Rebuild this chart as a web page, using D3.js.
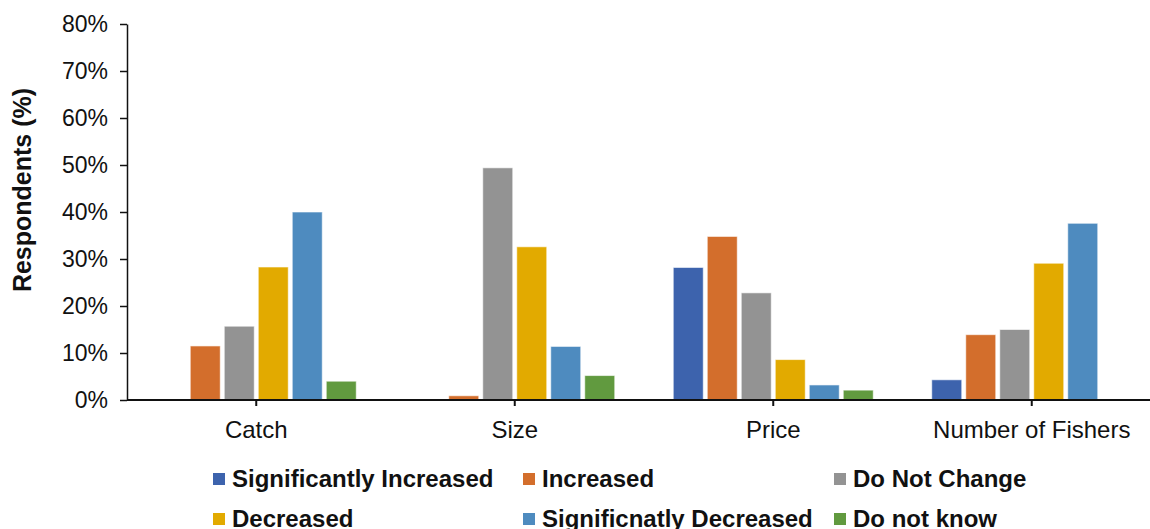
<!DOCTYPE html>
<html>
<head>
<meta charset="utf-8">
<script src="https://cdn.jsdelivr.net/npm/d3@7"></script>
<style>
  html, body { margin: 0; padding: 0; background: #fff; }
  svg { display: block; font-family: "Liberation Sans", Arial, sans-serif; }
</style>
</head>
<body>
<svg id="chart" width="1150" height="529"></svg>
<script>
// Survey categories and response options
const categories = ["Catch", "Size", "Price", "Number of Fishers"];
const seriesNames = [
  "Significantly Increased",
  "Increased",
  "Do Not Change",
  "Decreased",
  "Significnatly Decreased",
  "Do not know"
];
const seriesColors = ["#3D63AD", "#D36E2C", "#939393", "#E2AA00", "#4E8BBF", "#619A3F"];

// Share of respondents (%) per series, in category order
const sigIncreased   = [0, 0, 28.2, 4.3];
const increased      = [11.5, 0.9, 34.8, 13.9];
const doNotChange    = [15.7, 49.4, 22.8, 15.0];
const decreased      = [28.3, 32.6, 8.6, 29.1];
const sigDecreased   = [40.0, 11.4, 3.2, 37.6];
const doNotKnow      = [4.0, 5.2, 2.1, 0];
const seriesValues = [sigIncreased, increased, doNotChange, decreased, sigDecreased, doNotKnow];

const yTicks = [0, 10, 20, 30, 40, 50, 60, 70, 80];

const svg = d3.select("#chart");

const plotLeft = 127, plotBottom = 400, plotTop = 24;
const bandW = 258.5;

const x0 = d3.scaleBand()
  .domain(categories)
  .range([plotLeft, plotLeft + bandW * categories.length])
  .padding(0);

const x1 = d3.scaleBand()
  .domain(seriesNames)
  .range([29.25, bandW - 29.25])
  .paddingInner(4 / 34)
  .paddingOuter(0);

const y = d3.scaleLinear().domain([0, 80]).range([plotBottom, plotTop]);

// Bars
const groups = svg.append("g")
  .selectAll("g")
  .data(categories)
  .join("g")
  .attr("transform", d => `translate(${x0(d)},0)`);

groups.selectAll("rect")
  .data((c, ci) => seriesNames.map((s, si) => ({ s, si, v: seriesValues[si][ci] })))
  .join("rect")
  .filter(d => d.v > 0)
  .attr("x", d => x1(d.s))
  .attr("width", x1.bandwidth())
  .attr("y", d => y(d.v))
  .attr("height", d => y(0) - y(d.v))
  .attr("fill", d => seriesColors[d.si])
  .attr("stroke", "#ffffff")
  .attr("stroke-opacity", 0.6)
  .attr("stroke-width", 1);

// Y axis
const yAxis = svg.append("g")
  .attr("transform", `translate(${plotLeft},0)`)
  .call(d3.axisLeft(y).tickValues(yTicks).tickFormat(d => d + "%").tickSize(7).tickPadding(12).tickSizeOuter(0));
yAxis.select(".domain").attr("stroke", "#111").attr("stroke-width", 1.5);
yAxis.selectAll(".tick line").attr("stroke", "#111").attr("stroke-width", 1.5);
yAxis.selectAll("text")
  .attr("font-size", 23)
  .attr("fill", "#111")
  .attr("font-family", "Liberation Sans, Arial, sans-serif");

// X axis
const xAxis = svg.append("g")
  .attr("transform", `translate(0,${plotBottom})`)
  .call(d3.axisBottom(x0).tickSize(6).tickPadding(15).tickSizeOuter(0));
xAxis.select(".domain").attr("d", `M${plotLeft},0H1150`).attr("stroke", "#111").attr("stroke-width", 2);
xAxis.selectAll(".tick line").attr("stroke", "#111").attr("stroke-width", 2);
xAxis.selectAll("text")
  .attr("font-size", 24)
  .attr("fill", "#111")
  .attr("font-family", "Liberation Sans, Arial, sans-serif");

// Y axis title
svg.append("text")
  .attr("transform", `translate(31,190) rotate(-90)`)
  .attr("text-anchor", "middle")
  .attr("font-size", 25)
  .attr("font-weight", "bold")
  .attr("fill", "#111")
  .text("Respondents (%)");

// Legend: two rows of three entries
const legendCols = [213, 523, 834];
const legendRows = [479, 519];
const legend = svg.append("g")
  .selectAll("g")
  .data(seriesNames)
  .join("g")
  .attr("transform", (d, i) => `translate(${legendCols[i % 3]},${legendRows[Math.floor(i / 3)]})`);

legend.append("rect")
  .attr("x", 0).attr("y", -6)
  .attr("width", 12).attr("height", 12)
  .attr("fill", (d, i) => seriesColors[i]);

legend.append("text")
  .attr("x", 19)
  .attr("dy", "0.35em")
  .attr("font-size", 24)
  .attr("font-weight", "bold")
  .attr("fill", "#111")
  .text(d => d);
</script>
</body>
</html>
